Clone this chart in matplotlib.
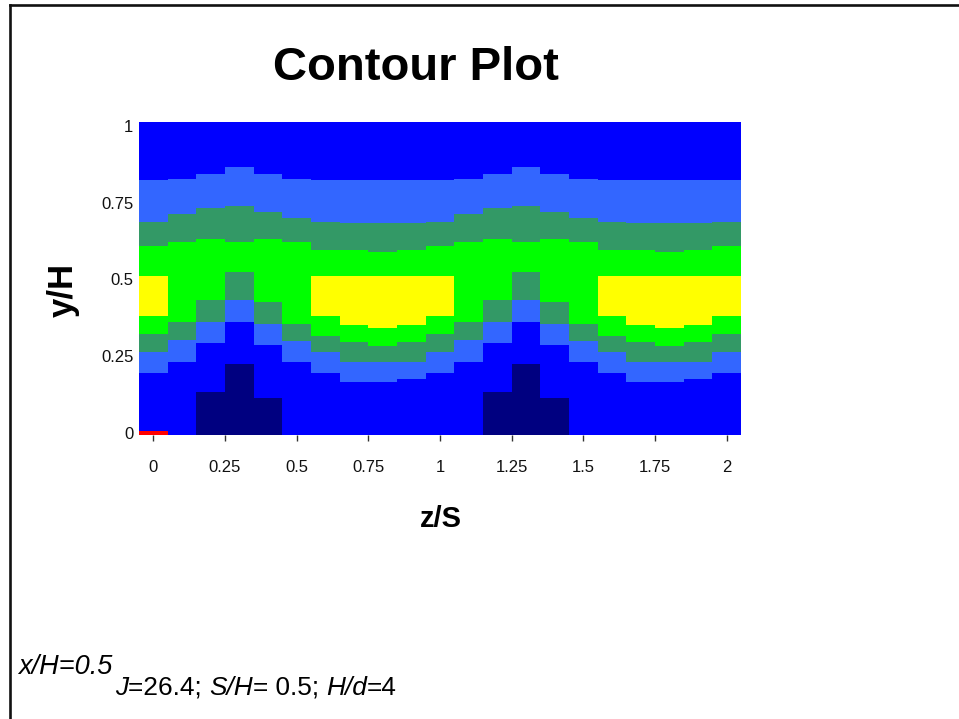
import numpy as np
import matplotlib
matplotlib.use("Agg")
import matplotlib.pyplot as plt
from matplotlib.lines import Line2D

nan = np.nan

# Spanwise stations (cell centres) z/S
z = [0.0, 0.1, 0.2, 0.3, 0.4, 0.5, 0.6, 0.7, 0.8, 0.9,
     1.0, 1.1, 1.2, 1.3, 1.4, 1.5, 1.6, 1.7, 1.8, 1.9, 2.0]

# Band tops in y/H for each contour level, per spanwise station (bottom to top)
navy_top = [nan, nan, 0.134, 0.224, 0.115, nan, nan, nan, nan, nan,
            nan, nan, 0.134, 0.224, 0.115, nan, nan, nan, nan, nan, nan]
blue_top = [0.196, 0.232, 0.292, 0.362, 0.286, 0.232, 0.196, 0.165, 0.165, 0.176,
            0.196, 0.232, 0.292, 0.362, 0.286, 0.232, 0.196, 0.165, 0.165, 0.176, 0.196]
lblue_top = [0.262, 0.302, 0.360, 0.433, 0.354, 0.299, 0.262, 0.232, 0.232, 0.232,
             0.262, 0.302, 0.360, 0.433, 0.354, 0.299, 0.262, 0.232, 0.232, 0.232, 0.262]
sea_top = [0.322, 0.360, 0.433, 0.525, 0.425, 0.354, 0.315, 0.295, 0.284, 0.295,
           0.322, 0.360, 0.433, 0.525, 0.425, 0.354, 0.315, 0.295, 0.284, 0.295, 0.322]
green_top = [0.608, 0.622, 0.630, 0.622, 0.630, 0.622, 0.595, 0.595, 0.590, 0.597,
             0.608, 0.622, 0.630, 0.622, 0.630, 0.622, 0.595, 0.595, 0.590, 0.597, 0.608]
sea2_top = [0.687, 0.712, 0.731, 0.738, 0.720, 0.701, 0.687, 0.682, 0.682, 0.682,
            0.687, 0.712, 0.731, 0.738, 0.720, 0.701, 0.687, 0.682, 0.682, 0.682, 0.687]
lblue2_top = [0.823, 0.828, 0.842, 0.864, 0.842, 0.828, 0.823, 0.823, 0.823, 0.823,
              0.823, 0.828, 0.842, 0.864, 0.842, 0.828, 0.823, 0.823, 0.823, 0.823, 0.823]

# Core level, present only between the jets
yellow_lo = [0.380, nan, nan, nan, nan, nan, 0.380, 0.351, 0.342, 0.351,
             0.380, nan, nan, nan, nan, nan, 0.380, 0.351, 0.342, 0.351, 0.380]
yellow_hi = [0.511, nan, nan, nan, nan, nan, 0.511, 0.511, 0.511, 0.511,
             0.511, nan, nan, nan, nan, nan, 0.511, 0.511, 0.511, 0.511, 0.511]

# Peak level right at the wall
red_z = [0.0]
red_top = [0.0075]

y_floor, y_ceiling = -0.0065, 1.012

x_ticks = [0, 0.25, 0.5, 0.75, 1, 1.25, 1.5, 1.75, 2]
x_ticklabels = ["0", "0.25", "0.5", "0.75", "1", "1.25", "1.5", "1.75", "2"]
y_ticks = [0, 0.25, 0.5, 0.75, 1]
y_ticklabels = ["0", "0.25", "0.5", "0.75", "1"]

NAVY, BLUE, LBLUE, SEA, GREEN, YELLOW, RED = (
    "#000080", "#0000FF", "#3366FF", "#339966", "#00FF00", "#FFFF00", "#FF0000")

FONT = "Liberation Sans"
plt.rcParams["font.family"] = [FONT, "DejaVu Sans"]

W, H = 959, 719
fig = plt.figure(figsize=(W / 100, H / 100), dpi=100)
fig.patch.set_facecolor("white")

ax = fig.add_axes([139 / W, 1 - 435 / H, 602 / W, 313 / H])

zc = np.asarray(z)
cell_w = 0.1
bar_kw = dict(width=cell_w, align="center", linewidth=0, antialiased=False)

# Stacked level bands
navy_arr = np.asarray(navy_top, dtype=float)
navy_arr = np.where(np.isnan(navy_arr), y_floor, navy_arr)
band_tops = [navy_arr, blue_top, lblue_top, sea_top, green_top,
             sea2_top, lblue2_top, np.full(len(z), y_ceiling)]
band_colors = [NAVY, BLUE, LBLUE, SEA, GREEN, SEA, LBLUE, BLUE]
bottom = np.full(len(z), y_floor)
for top, col in zip(band_tops, band_colors):
    top = np.asarray(top, dtype=float)
    ax.bar(zc, top - bottom, bottom=bottom, color=col, **bar_kw)
    bottom = top

ylo = np.asarray(yellow_lo, dtype=float)
yhi = np.asarray(yellow_hi, dtype=float)
m = ~np.isnan(ylo)
ax.bar(zc[m], yhi[m] - ylo[m], bottom=ylo[m], color=YELLOW, **bar_kw)

ax.bar(red_z, np.asarray(red_top) - y_floor, bottom=y_floor, color=RED, **bar_kw)

ax.set_xlim(-0.05, 2.05)
ax.set_ylim(y_floor, y_ceiling)
for s in ax.spines.values():
    s.set_visible(False)

ax.set_xticks(x_ticks)
ax.set_xticklabels(x_ticklabels)
ax.set_yticks(y_ticks)
ax.set_yticklabels(y_ticklabels)
ax.tick_params(axis="x", direction="out", length=4, width=1, color="#333333",
               pad=14, labelsize=12, labelcolor="#111111")
ax.tick_params(axis="y", length=0, pad=4, labelsize=12, labelcolor="#111111")

# Titles and axis names
fig.text(416 / W, 1 - 68 / H, "Contour Plot", fontsize=34, fontweight="bold",
         ha="center", va="center", family=FONT)
fig.text(441 / W, 1 - 519 / H, "z/S", fontsize=21, fontweight="bold",
         ha="center", va="center", family=FONT)
fig.text(63 / W, 1 - 290 / H, "y/H", fontsize=25, fontweight="bold",
         ha="center", va="center", rotation=90, family=FONT)

# Case description
fig.text(18 / W, 1 - 674 / H, "x/H=0.5", fontsize=19.5, style="italic",
         ha="left", va="baseline", family=FONT)

renderer = fig.canvas.get_renderer()
segments = [("J", "italic"), ("=26.4; ", "normal"), ("S/H", "italic"),
            ("= 0.5; ", "normal"), ("H/d", "italic"), ("=4", "normal")]
x_px = 115
for txt, sty in segments:
    t = fig.text(x_px / W, 1 - 695 / H, txt, fontsize=18.9, style=sty,
                 ha="left", va="baseline", family=FONT)
    bb = t.get_window_extent(renderer=renderer)
    x_px += bb.width

# Outer frame
lw = 1.9
fig.add_artist(Line2D([9.5 / W, 9.5 / W], [0, 1 - 5.3 / H], color="#111111",
                      linewidth=lw, transform=fig.transFigure))
fig.add_artist(Line2D([9.5 / W, 1.0], [1 - 5.3 / H, 1 - 5.3 / H], color="#111111",
                      linewidth=lw, transform=fig.transFigure))

fig.savefig("out.png", dpi=100)
